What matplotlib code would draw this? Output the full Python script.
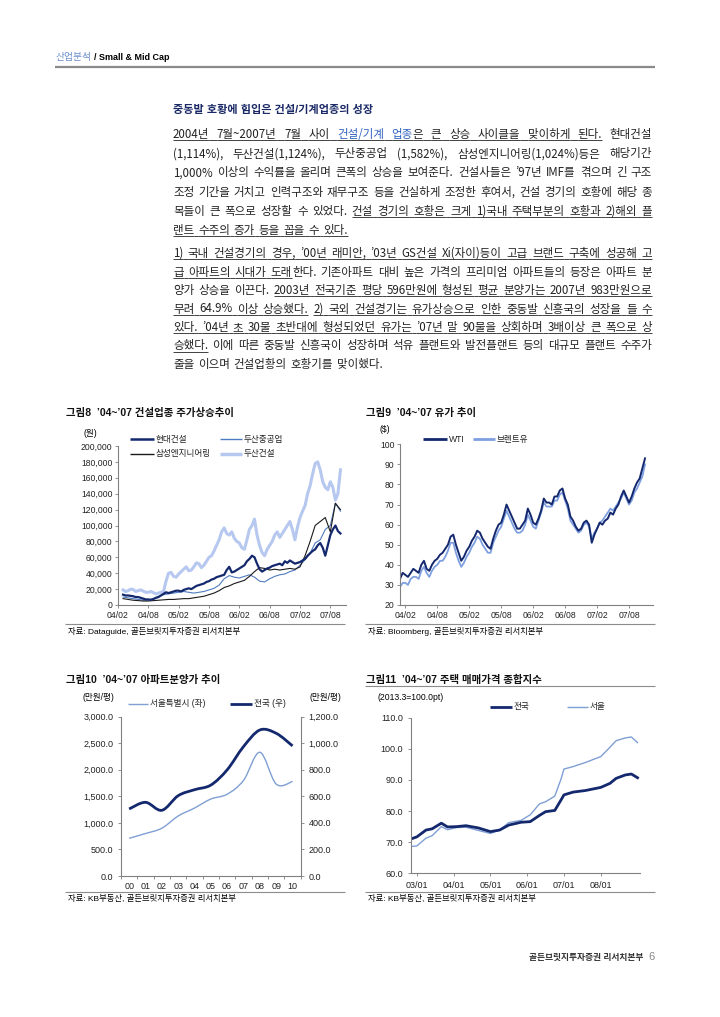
import matplotlib.pyplot as plt
from matplotlib.lines import Line2D
from matplotlib.path import Path
from matplotlib.patches import PathPatch
from matplotlib.ticker import FuncFormatter

plt.rcParams['font.family'] = ['Liberation Sans', 'Noto Sans CJK KR']

# ---- data ----
# fig 8: stock prices, month index 0 = 2004/01
half_months = [2 + i / 2 for i in range(87)]      # 2004/03 .. 2007/10, twice a month
stock_months = list(range(2, 46))                  # monthly
hyundai = [13, 12, 12, 11.5, 11, 10, 10, 9, 8, 7,
           7, 6.5, 7.5, 9, 10, 12, 14, 16, 15, 16,
           17, 18, 18, 17, 19, 20, 21, 20, 22, 24,
           25, 26, 27, 29, 30, 32, 33, 35, 36, 37,
           38, 44, 48, 41, 42, 44, 46, 48, 50, 55,
           58, 62, 60, 52, 45, 42, 44, 46, 47, 49,
           50, 51, 52, 50, 55, 53, 56, 54, 52, 53,
           54, 56, 58, 62, 65, 68, 70, 75, 78, 72,
           62, 75, 88, 95, 100, 93, 90]
doosan_const = [19, 17, 18, 20, 19.5, 17, 18, 19, 17.5, 16,
                16, 17, 15.5, 14, 15, 16, 17, 30, 40, 41,
                36, 35, 39, 42, 45, 48, 43, 44, 48, 53,
                52, 47, 50, 55, 60, 62, 68, 75, 82, 92,
                97, 90, 88, 92, 84, 80, 78, 72, 70, 82,
                95, 100, 108, 88, 75, 66, 62, 70, 75, 80,
                88, 92, 85, 90, 95, 100, 105, 95, 82, 98,
                110, 118, 125, 140, 150, 165, 178, 180, 170, 155,
                148, 145, 155, 148, 132, 140, 170]
doosan_heavy = [10, 9, 8, 7, 6, 6.5, 8, 11, 13, 14,
                15, 16, 17, 16, 15, 16, 17, 19, 21, 25,
                33, 37, 35, 34, 36, 38, 35, 30, 29, 33,
                36, 38, 39, 42, 44, 50, 57, 65, 78, 82,
                95, 100, 128, 118]
samsung_eng = [8, 7, 6, 5.5, 5, 5, 5.5, 6, 6.5, 7,
               7, 7.5, 8, 8, 9, 10, 11, 13, 15, 18,
               22, 24, 27, 29, 31, 36, 42, 47, 46, 44,
               45, 44, 45, 46, 45, 48, 62, 80, 100, 105,
               110, 92, 128, 120]
half_year_ticks = [1, 7, 13, 19, 25, 31, 37, 43]
half_year_labels = ['04/02', '04/08', '05/02', '05/08', '06/02', '06/08', '07/02', '07/08']

# fig 9: oil price ($), twice a month, month index 0 = 2004/01
oil_months = [i / 2 for i in range(93)]
wti = [33, 36, 35, 34, 36, 38, 37, 36, 40, 42,
       38, 37, 40, 42, 43, 45, 46, 48, 50, 54,
       55, 50, 46, 42, 44, 47, 49, 52, 54, 57,
       56, 53, 51, 49, 48, 53, 57, 60, 61, 65,
       70, 67, 64, 61, 58, 58, 60, 62, 68, 65,
       61, 60, 63, 67, 73, 71, 71, 70, 74, 74,
       77, 78, 73, 70, 64, 62, 59, 57, 58, 61,
       62, 60, 51, 55, 58, 61, 60, 62, 63, 66,
       65, 68, 70, 74, 77, 74, 71, 74, 78, 81,
       83, 88, 93]
brent = [29, 31, 31, 30, 33, 34, 34, 33, 37, 39,
         36, 34, 37, 39, 40, 42, 42, 44, 47, 51,
         51, 46, 42, 39, 41, 44, 46, 49, 51, 54,
         53, 50, 48, 46, 46, 51, 54, 57, 59, 63,
         67, 64, 61, 58, 56, 56, 57, 60, 65, 62,
         59, 58, 62, 66, 71, 69, 69, 69, 72, 72,
         75, 76, 72, 68, 62, 60, 58, 56, 57, 60,
         61, 59, 53, 56, 58, 61, 62, 64, 66, 68,
         67, 69, 71, 73, 76, 73, 70, 72, 76, 78,
         81, 84, 90]

# fig 10: apartment sale price (만원/평)
years = ['00', '01', '02', '03', '04', '05', '06', '07', '08', '09', '10']
seoul_price = [710, 800, 900, 1130, 1280, 1450, 1540, 1800, 2330, 1730, 1780]
nation_price = [505, 555, 495, 605, 650, 685, 800, 975, 1100, 1075, 980]

# fig 11: housing price index, month index 0 = 2002/11
idx_months = [0, 2, 5, 7, 10, 12, 15, 18, 22, 26, 29, 32, 36, 39, 42, 44, 47, 49, 50,
              53, 57, 62, 65, 67, 70, 72, 74]
idx_nation = [71.0, 71.7, 73.9, 74.3, 76.1, 74.9, 75.0, 75.3, 74.6, 73.4, 73.9, 75.5,
              76.4, 76.6, 78.6, 79.8, 80.2, 83.5, 85.2, 86.1, 86.6, 87.6, 88.9, 90.5,
              91.6, 91.9, 90.7]
idx_seoul = [68.6, 68.8, 71.3, 72.1, 75.0, 74.0, 74.7, 74.8, 73.8, 72.8, 73.9, 76.3,
             77.0, 78.8, 82.3, 83.0, 84.8, 90.2, 93.5, 94.3, 95.6, 97.5, 100.5, 102.6,
             103.5, 103.8, 102.0]
year_ticks = [2, 14, 26, 38, 50, 62]
year_labels = ['03/01', '04/01', '05/01', '06/01', '07/01', '08/01']

NAVY = '#14286e'
GRAY = '#8c8c8c'

W, H = 720, 1017
fig = plt.figure(figsize=(7.2, 10.17), dpi=100)
fig.patch.set_facecolor('white')
renderer = fig.canvas.get_renderer()


def fx(x):
    return x / W


def fy(y):
    return 1 - y / H


def hline(x0, x1, y, color=GRAY, lw=0.8):
    fig.add_artist(Line2D([fx(x0), fx(x1)], [fy(y), fy(y)], color=color, lw=lw,
                          transform=fig.transFigure, solid_capstyle='butt'))


def put(x, y, s, **kw):
    return fig.text(fx(x), fy(y), s, **kw)


def add_axes(l, t, r, b):
    return fig.add_axes([fx(l), fy(b), (r - l) / W, (b - t) / H])


def style(ax, size=6.2, pad=1.5):
    for s in ['top', 'right']:
        ax.spines[s].set_visible(False)
    for s in ['left', 'bottom']:
        ax.spines[s].set_color('#808080')
        ax.spines[s].set_linewidth(0.8)
    ax.tick_params(labelsize=size, length=2.5, width=0.6, color='#808080',
                   pad=pad, labelcolor='#222222')


def legend_item(x0, x1, y, color, lw, label):
    hline(x0, x1, y, color=color, lw=lw)
    put(x1 + 2, y, label, fontsize=6.2, va='center', color='#222222')


def smooth(x, y):
    # Bezier path through the points (Excel style smoothed line)
    verts = [(x[0], y[0])]
    codes = [Path.MOVETO]
    n = len(x)
    for i in range(n - 1):
        xa, ya = (x[i - 1], y[i - 1]) if i > 0 else (x[i], y[i])
        xb, yb = (x[i + 2], y[i + 2]) if i + 2 < n else (x[i + 1], y[i + 1])
        verts.append((x[i] + (x[i + 1] - xa) / 6, y[i] + (y[i + 1] - ya) / 6))
        verts.append((x[i + 1] - (xb - x[i]) / 6, y[i + 1] - (yb - y[i]) / 6))
        verts.append((x[i + 1], y[i + 1]))
        codes += [Path.CURVE4] * 3
    return Path(verts, codes)


# ---- header ----
t = put(56, 57, '산업분석', fontsize=7, color='#6b8ccc', va='center')
w = t.get_window_extent(renderer).width
put(56 + w + 2, 57, '/ Small & Mid Cap', fontsize=6.5, fontweight='bold', va='center')
hline(55, 655, 67, color='#8a8a8a', lw=1.6)

# ---- body text ----
put(173, 110, '중동발 호황에 힘입은 건설/기계업종의 성장', fontsize=8,
    fontweight='bold', color='#1b2a66', va='center')

BODY_FONT = ['Noto Sans CJK KR']


def body_line(y, segs, justify=True, x0=173, x1=652, size=8.3):
    words, gaps, cur, pend = [], [], [], None
    for text, st in segs:
        for i, p in enumerate(text.split(' ')):
            if i > 0:
                if cur:
                    words.append(cur)
                    cur = []
                pend = st
            if p:
                if not cur and words:
                    gaps.append(pend)
                cur.append((p, st))
    if cur:
        words.append(cur)
    items = []
    for wd in words:
        row = []
        for frag, st in wd:
            color = '#2f62c0' if st == 'b' else '#222222'
            tt = put(0, y + 4, frag, fontsize=size, family=BODY_FONT, color=color,
                     va='baseline')
            row.append((tt, tt.get_window_extent(renderer).width, st))
        items.append(row)
    total = sum(sum(r[1] for r in row) for row in items)
    if justify and len(items) > 1:
        gap = (x1 - x0 - total) / (len(items) - 1)
    else:
        gap = size * 100 / 72 * 0.33
    x = x0
    for k, row in enumerate(items):
        for tt, wd, st in row:
            tt.set_x(fx(x))
            if st != 'n':
                hline(x, x + wd, y + 6, color='#222222', lw=0.6)
            x += wd
        if k < len(gaps):
            if gaps[k] != 'n':
                hline(x, x + gap, y + 6, color='#222222', lw=0.6)
            x += gap


para1 = [
    [('2004년 7월~2007년 7월 사이 ', 'u'), ('건설/기계 업종', 'b'),
     ('은 큰 상승 사이클을 맞이하게 된다.', 'u'), (' 현대건설', 'n')],
    [('(1,114%), 두산건설(1,124%), 두산중공업 (1,582%), 삼성엔지니어링(1,024%)등은 해당기간', 'n')],
    [('1,000% 이상의 수익률을 올리며 큰폭의 상승을 보여준다. 건설사들은 ’97년 IMF를 겪으며 긴 구조', 'n')],
    [('조정 기간을 거치고 인력구조와 재무구조 등을 건실하게 조정한 후여서, 건설 경기의 호황에 해당 종', 'n')],
    [('목들이 큰 폭으로 성장할 수 있었다. ', 'n'),
     ('건설 경기의 호황은 크게 1)국내 주택부분의 호황과 2)해외 플', 'u')],
    [('랜트 수주의 증가 등을 꼽을 수 있다.', 'u')],
]
para2 = [
    [('1) 국내 건설경기의 경우, ’00년 래미안, ’03년 GS건설 Xi(자이)등이 고급 브랜드 구축에 성공해 고', 'u')],
    [('급 아파트의 시대가 도래', 'u'),
     ('한다. 기존아파트 대비 높은 가격의 프리미엄 아파트들의 등장은 아파트 분', 'n')],
    [('양가 상승을 이끈다. ', 'n'),
     ('2003년 전국기준 평당 596만원에 형성된 평균 분양가는 2007년 983만원으로', 'u')],
    [('무려 64.9% 이상 상승했다.', 'u'), (' ', 'n'),
     ('2) 국외 건설경기는 유가상승으로 인한 중동발 신흥국의 성장을 들 수', 'u')],
    [('있다. ’04년 초 30불 초반대에 형성되었던 유가는 ’07년 말 90불을 상회하며 3배이상 큰 폭으로 상', 'u')],
    [('승했다.', 'u'), (' 이에 따른 중동발 신흥국이 성장하며 석유 플랜트와 발전플랜트 등의 대규모 플랜트 수주가', 'n')],
    [('줄을 이으며 건설업황의 호황기를 맞이했다.', 'n')],
]
for i, segs in enumerate(para1):
    body_line(134 + 19.2 * i, segs, justify=(i < len(para1) - 1))
for i, segs in enumerate(para2):
    body_line(253 + 18.5 * i, segs, justify=(i < len(para2) - 1))

# ---- fig 8 ----
put(66, 413, '그림8  ’04~’07 건설업종 주가상승추이', fontsize=7.5, fontweight='bold',
    va='center', color='#111111')
ax = add_axes(118, 446, 345.5, 605)
ax.plot(half_months, [v * 1000 for v in doosan_const], color='#b6c8ef', lw=2.2)
ax.plot(stock_months, [v * 1000 for v in doosan_heavy], color='#4f7cc0', lw=0.8)
ax.plot(stock_months, [v * 1000 for v in samsung_eng], color='#1a1a1a', lw=0.8)
ax.plot(half_months, [v * 1000 for v in hyundai], color=NAVY, lw=1.6)
ax.set_xlim(2.15, 46)
ax.set_ylim(0, 200000)
ax.set_yticks(range(0, 200001, 20000))
ax.yaxis.set_major_formatter(FuncFormatter(lambda v, p: f'{int(v):,}'))
ax.set_xticks(half_year_ticks)
ax.set_xticklabels(half_year_labels)
style(ax)
put(90, 433, '(원)', fontsize=6.2, ha='center', va='center')
legend_item(130, 154, 439.3, NAVY, 1.8, '현대건설')
legend_item(220, 242, 439.3, '#4f7cc0', 1.0, '두산중공업')
legend_item(130, 154, 454, '#1a1a1a', 1.0, '삼성엔지니어링')
legend_item(220, 242, 454, '#b6c8ef', 2.5, '두산건설')
hline(65, 345, 624)
put(68, 632, '자료: Dataguide, 골든브릿지투자증권 리서치본부', fontsize=6, va='center')

# ---- fig 9 ----
put(366, 413, '그림9  ’04~’07 유가 추이', fontsize=7.5, fontweight='bold',
    va='center', color='#111111')
ax = add_axes(400, 444.3, 653, 605)
ax.plot(oil_months, brent, color='#7e9fe0', lw=1.3)
ax.plot(oil_months, wti, color=NAVY, lw=1.4)
ax.set_xlim(0, 47.5)
ax.set_ylim(20, 100)
ax.set_yticks(range(20, 101, 10))
ax.set_xticks(half_year_ticks)
ax.set_xticklabels(half_year_labels)
style(ax)
put(385, 430, '($)', fontsize=6.2, ha='center', va='center')
legend_item(423, 447, 439.3, NAVY, 2.0, 'WTI')
legend_item(473, 495, 439.3, '#7e9fe0', 2.0, '브렌트유')
hline(365, 655, 624)
put(368, 632, '자료: Bloomberg, 골든브릿지투자증권 리서치본부', fontsize=6, va='center')

# ---- fig 10 ----
put(66, 680, '그림10  ’04~’07 아파트분양가 추이', fontsize=7.5, fontweight='bold',
    va='center', color='#111111')
ax = add_axes(121, 716.7, 300.7, 876)
ax2 = ax.twinx()
xs = list(range(len(years)))
ax.add_patch(PathPatch(smooth(xs, seoul_price), fill=False, edgecolor='#7f9fd4', lw=1.0))
ax2.add_patch(PathPatch(smooth(xs, nation_price), fill=False, edgecolor=NAVY, lw=2.0))
ax.set_xlim(-0.5, 10.5)
ax.set_ylim(0, 3000)
ax2.set_ylim(0, 1200)
ax.set_yticks(range(0, 3001, 500))
ax2.set_yticks(range(0, 1201, 200))
ax.yaxis.set_major_formatter(FuncFormatter(lambda v, p: f'{v:,.1f}'))
ax2.yaxis.set_major_formatter(FuncFormatter(lambda v, p: f'{v:,.1f}'))
ax.set_xticks(xs)
ax.set_xticklabels(years)
style(ax, size=6.5, pad=3)
ax.tick_params(axis='x', length=0, pad=4)
ax.set_xticks([i - 0.5 for i in range(12)], minor=True)
ax.tick_params(axis='x', which='minor', length=2.5, width=0.6, color='#808080')
for s in ['top', 'left', 'bottom']:
    ax2.spines[s].set_visible(False)
ax2.spines['right'].set_color('#808080')
ax2.spines['right'].set_linewidth(0.8)
ax2.tick_params(labelsize=6.5, length=2.5, width=0.6, color='#808080', pad=3,
                labelcolor='#222222')
put(98, 697, '(만원/평)', fontsize=6.2, ha='center', va='center')
put(325, 697, '(만원/평)', fontsize=6.2, ha='center', va='center')
legend_item(128, 148, 704, '#7f9fd4', 1.0, '서울특별시 (좌)')
legend_item(230, 252, 704, NAVY, 2.0, '전국 (우)')
hline(65, 345, 892)
put(68, 899, '자료: KB부동산, 골든브릿지투자증권 리서치본부', fontsize=6, va='center')

# ---- fig 11 ----
put(366, 680, '그림11  ’04~’07 주택 매매가격 종합지수', fontsize=7.5, fontweight='bold',
    va='center', color='#111111')
hline(365, 655, 686)
ax = add_axes(410.7, 717.7, 640, 873.3)
ax.plot(idx_months, idx_seoul, color='#7f9fd4', lw=1.0)
ax.plot(idx_months, idx_nation, color=NAVY, lw=2.0)
ax.set_xlim(0, 74.8)
ax.set_ylim(60, 110)
ax.set_yticks(range(60, 111, 10))
ax.yaxis.set_major_formatter(FuncFormatter(lambda v, p: f'{v:.1f}'))
ax.set_xticks(year_ticks)
ax.set_xticklabels(year_labels)
style(ax, size=6.5, pad=3)
put(377, 698, '(2013.3=100.0pt)', fontsize=6.2, va='center')
legend_item(490, 512, 707, NAVY, 2.0, '전국')
legend_item(567, 588, 707, '#7f9fd4', 1.0, '서울')
hline(365, 655, 892)
put(368, 899, '자료: KB부동산, 골든브릿지투자증권 리서치본부', fontsize=6, va='center')

# ---- footer ----
put(643, 957, '골든브릿지투자증권 리서치본부', fontsize=6.3, ha='right', va='center',
    color='#333333', fontweight='bold')
put(648, 957, '6', fontsize=8, va='center', color='#888888')

fig.savefig('out.png', dpi=100, facecolor='white')
